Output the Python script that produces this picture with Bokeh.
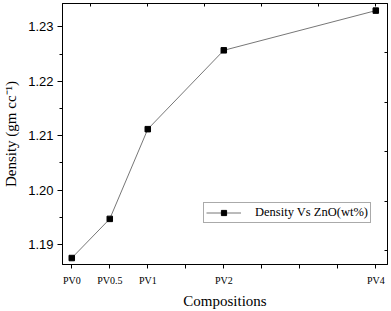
from bokeh.plotting import figure
from bokeh.models import (Range1d, LinearAxis, FixedTicker, SingleIntervalTicker,
                          Legend, LegendItem, PrintfTickFormatter, Span)
from bokeh.embed import file_html
from bokeh.resources import INLINE

# Data
compositions = ["PV0", "PV0.5", "PV1", "PV2", "PV4"]
zno_wt = [0, 0.5, 1, 2, 4]
density = [1.1875, 1.1947, 1.2112, 1.2257, 1.2330]

unlabelled_ticks = [1.5, 2.5, 3, 3.5]

SERIF = "Liberation Serif"
SANS = "Liberation Sans"

p = figure(width=391, height=311, output_backend="svg", toolbar_location=None,
           title=None,
           x_range=Range1d(-0.122, 4.154), y_range=Range1d(1.18631, 1.23431),
           min_border_left=62, min_border_right=4, min_border_top=3,
           min_border_bottom=44, x_axis_type=None, y_axis_type=None)
p.background_fill_color = "white"
p.border_fill_color = "white"
p.outline_line_color = "black"
p.outline_line_width = 1
p.outline_line_alpha = 1.0
p.xgrid.visible = False
p.ygrid.visible = False

# frame top edge
p.add_layout(Span(location=p.y_range.end, dimension="width",
                  line_color="black", line_width=1))

# bottom axis
xb = LinearAxis(ticker=FixedTicker(ticks=zno_wt, minor_ticks=unlabelled_ticks))
xb.major_label_overrides = {z: c for z, c in zip(zno_wt, compositions)}
xb.major_tick_out = 4
xb.major_tick_in = 0
xb.minor_tick_out = 4
xb.minor_tick_in = 0
xb.major_label_standoff = 6
xb.major_label_text_font = SERIF
xb.major_label_text_font_size = "10px"
xb.major_label_text_color = "black"
xb.axis_label = "Compositions"
xb.axis_label_text_font = SERIF
xb.axis_label_text_font_size = "15px"
xb.axis_label_text_font_style = "normal"
xb.axis_label_text_color = "black"
xb.axis_label_standoff = 4
xb.axis_line_color = "black"
p.add_layout(xb, "below")

# left axis
yl = LinearAxis(ticker=SingleIntervalTicker(interval=0.01, num_minor_ticks=2),
                formatter=PrintfTickFormatter(format="%.2f"))
yl.major_tick_out = 5
yl.major_tick_in = 0
yl.minor_tick_out = 3
yl.minor_tick_in = 0
yl.major_label_standoff = 4
yl.major_label_text_font = SANS
yl.major_label_text_font_size = "13px"
yl.major_label_text_color = "black"
yl.axis_label = "Density (gm cc\u207b\u00b9)"
yl.axis_label_text_font = SERIF
yl.axis_label_text_font_size = "15px"
yl.axis_label_text_font_style = "normal"
yl.axis_label_text_color = "black"
yl.axis_label_standoff = 6
yl.axis_line_color = "black"
p.add_layout(yl, "left")

# top axis (ticks only)
top_ticks = [0.25, 1, 1.75, 2.5, 3.25, 4]
xt = LinearAxis(ticker=FixedTicker(ticks=[], minor_ticks=top_ticks))
xt.minor_tick_in = 3
xt.minor_tick_out = 0
xt.minor_tick_line_color = "black"
xt.major_tick_in = 0
xt.major_tick_out = 0
xt.major_label_standoff = 0
xt.axis_line_color = "black"
xt.axis_line_width = 1
p.add_layout(xt, "above")

# right axis (ticks only)
right_ticks = [1.22522, 1.21613, 1.20704, 1.19795, 1.18885]
yr = LinearAxis(ticker=FixedTicker(ticks=[], minor_ticks=right_ticks))
yr.minor_tick_in = 3
yr.minor_tick_out = 0
yr.major_tick_in = 0
yr.major_tick_out = 0
yr.major_label_standoff = 0
yr.axis_line_color = "black"
p.add_layout(yr, "right")

ln = p.line(zno_wt, density, line_color="#777777", line_width=1)
sq = p.scatter(zno_wt, density, marker="square", size=5.5,
               fill_color="black", line_color="black")

legend = Legend(items=[LegendItem(label="Density Vs ZnO(wt%)", renderers=[ln, sq])],
                location=(141, 41), padding=2, spacing=0, margin=0,
                glyph_width=35, glyph_height=13, label_standoff=14,
                label_text_font=SERIF, label_text_font_size="12.5px",
                label_text_color="black", border_line_color="#555555",
                border_line_width=1, background_fill_alpha=1,
                label_height=13)
p.add_layout(legend, "center")

open("out.html", "w").write(file_html(p, INLINE))
